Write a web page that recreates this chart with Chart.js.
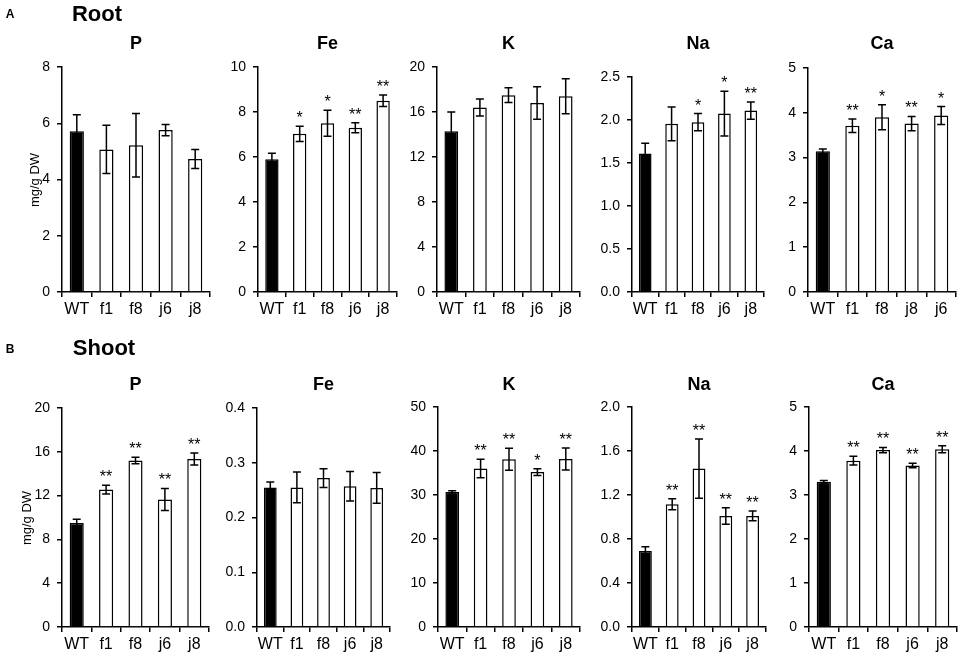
<!DOCTYPE html>
<html>
<head>
<meta charset="utf-8">
<script src="https://cdn.jsdelivr.net/npm/chart.js@4.4.0/dist/chart.umd.min.js"></script>
<style>
    body {
        margin: 0;
        width: 964px;
        height: 669px;
        position: relative;
        overflow: hidden;
        background: #fff;
        font-family: 'Liberation Sans', Arial, sans-serif;
    }
    .panel { position: absolute; }
    .txt {
        position: absolute;
        color: #000;
        white-space: nowrap;
        transform: translate(-50%, -50%);
    }
</style>
</head>
<body>
<script>
// Categories
const groups = ['WT', 'f1', 'f8', 'j6', 'j8'];
const groupsRootCa = ['WT', 'f1', 'f8', 'j8', 'j6'];
const elements = ['P', 'Fe', 'K', 'Na', 'Ca'];

// Root (mg/g DW), mean and error
const rootP = [5.72, 5.07, 5.22, 5.76, 4.73];
const rootPErr = [0.58, 0.86, 1.13, 0.2, 0.34];
const rootPStars = ['', '', '', '', ''];
const rootFe = [5.9, 7.03, 7.5, 7.3, 8.5];
const rootFeErr = [0.27, 0.34, 0.58, 0.22, 0.26];
const rootFeStars = ['', '*', '*', '**', '**'];
const rootK = [14.3, 16.4, 17.5, 16.8, 17.4];
const rootKErr = [1.7, 0.75, 0.65, 1.45, 1.55];
const rootKStars = ['', '', '', '', ''];
const rootNa = [1.61, 1.955, 1.975, 2.075, 2.11];
const rootNaErr = [0.12, 0.195, 0.1, 0.26, 0.1];
const rootNaStars = ['', '', '*', '*', '**'];
const rootCa = [3.14, 3.71, 3.9, 3.76, 3.94];
const rootCaErr = [0.05, 0.15, 0.28, 0.16, 0.2];
const rootCaStars = ['', '**', '*', '**', '*'];

// Shoot (mg/g DW), mean and error
const shootP = [9.5, 12.55, 15.2, 11.65, 15.35];
const shootPErr = [0.35, 0.4, 0.3, 1.0, 0.55];
const shootPStars = ['', '**', '**', '**', '**'];
const shootFe = [0.255, 0.255, 0.272, 0.257, 0.254];
const shootFeErr = [0.01, 0.028, 0.017, 0.027, 0.028];
const shootFeStars = ['', '', '', '', ''];
const shootK = [30.7, 36.0, 38.1, 35.2, 38.2];
const shootKErr = [0.25, 2.1, 2.5, 0.75, 2.5];
const shootKStars = ['', '**', '**', '*', '**'];
const shootNa = [0.69, 1.115, 1.44, 1.01, 1.01];
const shootNaErr = [0.04, 0.05, 0.27, 0.075, 0.045];
const shootNaStars = ['', '**', '**', '**', '**'];
const shootCa = [3.3, 3.78, 4.02, 3.67, 4.04];
const shootCaErr = [0.03, 0.1, 0.06, 0.05, 0.08];
const shootCaStars = ['', '**', '**', '**', '**'];

// Y axis ranges (max, step, decimals) per element
const rootMax = [8, 10, 20, 2.5, 5];
const rootStep = [2, 2, 4, 0.5, 1];
const rootDecimals = [0, 0, 0, 1, 0];
const shootMax = [20, 0.4, 50, 2, 5];
const shootStep = [4, 0.1, 10, 0.4, 1];
const shootDecimals = [0, 1, 0, 1, 0];

// Page layout: y axis x, x axis end, top tick y
const rootBoxes = [
    { axisX: 62, endX: 210, top: 67 },
    { axisX: 258, endX: 397, top: 67 },
    { axisX: 437, endX: 580, top: 67 },
    { axisX: 632, endX: 764, top: 77 },
    { axisX: 808, endX: 956, top: 68 }
];
const rootZero = 292;
const shootBoxes = [
    { axisX: 62, endX: 209, top: 408 },
    { axisX: 257, endX: 390, top: 408 },
    { axisX: 438, endX: 580, top: 407 },
    { axisX: 632, endX: 766, top: 407 },
    { axisX: 809, endX: 957, top: 407 }
];
const shootZero = 627;

const Y_W = 46, X_H = 34, T_PAD = 22, R_PAD = 6;

Chart.defaults.font.family = "'Liberation Sans', Arial, sans-serif";
Chart.defaults.color = '#000';

// Error bars and significance stars, drawn from the y scale
const errorBars = {
    id: 'errorBars',
    afterDatasetsDraw(chart) {
        const ctx = chart.ctx;
        const y = chart.scales.y;
        const ds = chart.data.datasets[0];
        const meta = chart.getDatasetMeta(0);
        ctx.save();
        ctx.strokeStyle = '#000';
        ctx.fillStyle = '#000';
        ctx.lineWidth = 1.5;
        ctx.font = "16px 'Liberation Sans', Arial, sans-serif";
        ctx.textAlign = 'center';
        ctx.textBaseline = 'alphabetic';
        meta.data.forEach((bar, i) => {
            const v = ds.data[i];
            const e = ds.errors[i];
            const yTop = y.getPixelForValue(v + e);
            const yBot = y.getPixelForValue(v - e);
            ctx.beginPath();
            ctx.moveTo(bar.x, yBot);
            ctx.lineTo(bar.x, yTop);
            ctx.moveTo(bar.x - 4, yTop);
            ctx.lineTo(bar.x + 4, yTop);
            ctx.moveTo(bar.x - 4, yBot);
            ctx.lineTo(bar.x + 4, yBot);
            ctx.stroke();
            if (ds.stars[i]) {
                ctx.fillText(ds.stars[i], bar.x, yTop - 3);
            }
        });
        ctx.restore();
    }
};

function addText(text, x, y, css) {
    const d = document.createElement('div');
    d.className = 'txt';
    d.textContent = text;
    d.style.left = x + 'px';
    d.style.top = y + 'px';
    Object.assign(d.style, css || {});
    document.body.appendChild(d);
    return d;
}

function makePanel(box, zeroY, labels, values, errors, stars, max, step, decimals) {
    const w = box.endX - box.axisX + Y_W + R_PAD;
    const h = zeroY - box.top + T_PAD + X_H;
    const div = document.createElement('div');
    div.className = 'panel';
    div.style.left = (box.axisX - Y_W) + 'px';
    div.style.top = (box.top - T_PAD) + 'px';
    const canvas = document.createElement('canvas');
    canvas.width = w;
    canvas.height = h;
    canvas.style.width = w + 'px';
    canvas.style.height = h + 'px';
    div.appendChild(canvas);
    document.body.appendChild(div);

    new Chart(canvas, {
        type: 'bar',
        data: {
            labels: labels,
            datasets: [{
                data: values,
                errors: errors,
                stars: stars,
                backgroundColor: labels.map(l => l === 'WT' ? '#000' : '#fff'),
                borderColor: '#000',
                borderWidth: 1.5,
                barPercentage: 0.48,
                categoryPercentage: 1
            }]
        },
        options: {
            responsive: false,
            animation: false,
            layout: { padding: { top: T_PAD, right: R_PAD, left: 0, bottom: 0 } },
            plugins: {
                legend: { display: false },
                tooltip: { enabled: false }
            },
            scales: {
                x: {
                    grid: {
                        offset: true,
                        drawOnChartArea: false,
                        tickLength: 5,
                        color: '#000',
                        lineWidth: 1.5
                    },
                    border: { color: '#000', width: 1.5 },
                    ticks: { font: { size: 16 }, padding: 3, maxRotation: 0, autoSkip: false },
                    afterFit: s => { s.height = X_H; }
                },
                y: {
                    min: 0,
                    max: max,
                    ticks: {
                        stepSize: step,
                        font: { size: 14 },
                        padding: 7,
                        callback: v => Number(v).toFixed(decimals)
                    },
                    grid: {
                        drawOnChartArea: false,
                        tickLength: 5,
                        color: '#000',
                        lineWidth: 1.5
                    },
                    border: { color: '#000', width: 1.5 },
                    afterFit: s => { s.width = Y_W; }
                }
            }
        },
        plugins: [errorBars]
    });
}

const rootSets = [
    [rootP, rootPErr, rootPStars],
    [rootFe, rootFeErr, rootFeStars],
    [rootK, rootKErr, rootKStars],
    [rootNa, rootNaErr, rootNaStars],
    [rootCa, rootCaErr, rootCaStars]
];
const shootSets = [
    [shootP, shootPErr, shootPStars],
    [shootFe, shootFeErr, shootFeStars],
    [shootK, shootKErr, shootKStars],
    [shootNa, shootNaErr, shootNaStars],
    [shootCa, shootCaErr, shootCaStars]
];

rootSets.forEach((s, i) => {
    const labels = elements[i] === 'Ca' ? groupsRootCa : groups;
    makePanel(rootBoxes[i], rootZero, labels, s[0], s[1], s[2], rootMax[i], rootStep[i], rootDecimals[i]);
    const b = rootBoxes[i];
    addText(elements[i], (b.axisX + b.endX) / 2, 43, { fontSize: '18px', fontWeight: 'bold' });
});
shootSets.forEach((s, i) => {
    makePanel(shootBoxes[i], shootZero, groups, s[0], s[1], s[2], shootMax[i], shootStep[i], shootDecimals[i]);
    const b = shootBoxes[i];
    addText(elements[i], (b.axisX + b.endX) / 2, 384, { fontSize: '18px', fontWeight: 'bold' });
});

// Section headings and axis titles
addText('A', 10, 14, { fontSize: '12px', fontWeight: 'bold' });
addText('Root', 97, 14, { fontSize: '22px', fontWeight: 'bold' });
addText('B', 10, 349, { fontSize: '12px', fontWeight: 'bold' });
addText('Shoot', 104, 348, { fontSize: '22px', fontWeight: 'bold' });
addText('mg/g DW', 34, 180, { fontSize: '13px', transform: 'translate(-50%, -50%) rotate(-90deg)' });
addText('mg/g DW', 26, 518, { fontSize: '13px', transform: 'translate(-50%, -50%) rotate(-90deg)' });
</script>
</body>
</html>
